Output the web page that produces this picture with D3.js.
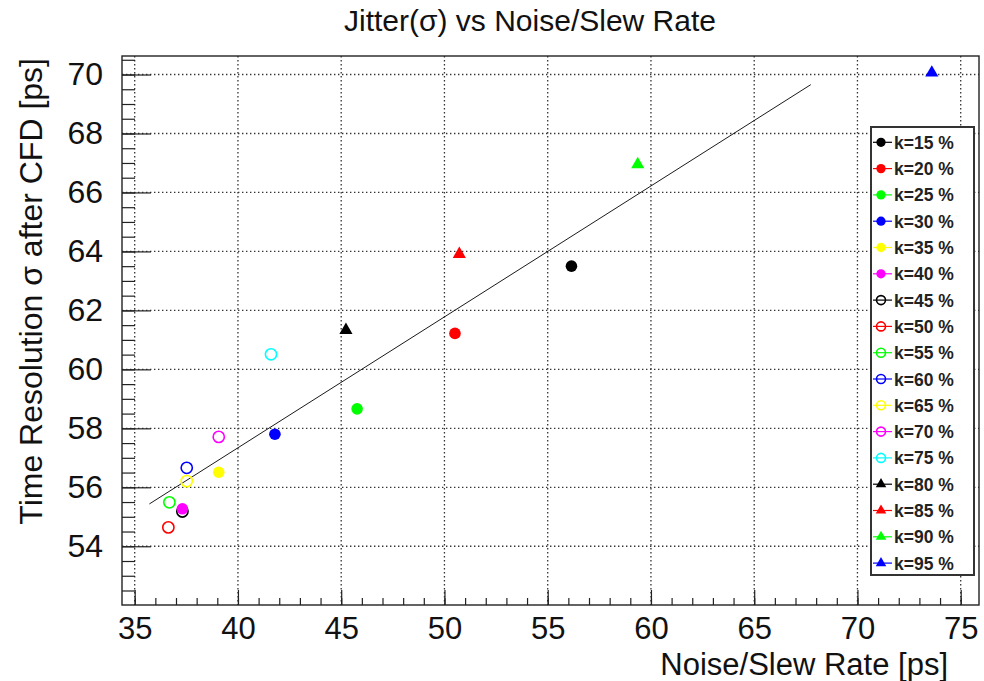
<!DOCTYPE html>
<html>
<head>
<meta charset="utf-8">
<script src="https://cdn.jsdelivr.net/npm/d3@7"></script>
<style>
  html, body { margin: 0; padding: 0; background: #fff; }
  svg { display: block; font-family: "Liberation Sans", Arial, Helvetica, sans-serif; }
</style>
</head>
<body>
<svg id="chart" width="984" height="681"></svg>
<script>
// Series: one point per CFD fraction k
const kLabels = ["k=15 %", "k=20 %", "k=25 %", "k=30 %", "k=35 %", "k=40 %",
                 "k=45 %", "k=50 %", "k=55 %", "k=60 %", "k=65 %", "k=70 %", "k=75 %",
                 "k=80 %", "k=85 %", "k=90 %", "k=95 %"];
const noiseOverSlew = [56.15, 50.51, 45.77, 41.79, 39.07, 37.31,
                       37.31, 36.63, 36.68, 37.52, 37.52, 39.07, 41.60,
                       45.23, 50.72, 59.36, 73.60];
const timeResolution = [63.50, 61.22, 58.66, 57.80, 56.51, 55.27,
                        55.18, 54.64, 55.49, 56.66, 56.21, 57.71, 60.51,
                        61.33, 63.91, 66.95, 70.06];
const markerColors = ["#000000", "#ff0000", "#00ff00", "#0000ff", "#ffff00", "#ff00ff",
                      "#000000", "#ff0000", "#00ff00", "#0000ff", "#ffff00", "#ff00ff", "#00ffff",
                      "#000000", "#ff0000", "#00ff00", "#0000ff"];
const markerShapes = ["disc", "disc", "disc", "disc", "disc", "disc",
                      "ring", "ring", "ring", "ring", "ring", "ring", "ring",
                      "triangle", "triangle", "triangle", "triangle"];

// Linear fit: sigma = intercept + slope * x over the fitted range
const fitSlope = 0.444;
const fitIntercept = 39.58;
const fitRange = [35.71, 67.74];

// Axes
const xDomain = [34.385, 75.886];
const yDomain = [52.008, 70.628];
const xMajorTicks = [35, 40, 45, 50, 55, 60, 65, 70, 75];
const xMinorTicks = d3.range(35, 76, 1);
const yMajorTicks = [54, 56, 58, 60, 62, 64, 66, 68, 70];
const yMinorTicks = d3.range(52.5, 70.6, 0.5);

const titleText = "Jitter(\u03c3) vs Noise/Slew Rate";
const xTitle = "Noise/Slew Rate [ps]";
const yTitle = "Time Resolution \u03c3 after CFD [ps]";

const frame = { left: 122, right: 979, top: 56, bottom: 605 };
const svg = d3.select("#chart");

const x = d3.scaleLinear().domain(xDomain).range([frame.left, frame.right]);
const y = d3.scaleLinear().domain(yDomain).range([frame.bottom, frame.top]);

const gridColor = "#333";
const axisColor = "#222";

// Dotted grid
const grid = svg.append("g");
grid.selectAll("line.gx").data(xMajorTicks).join("line")
  .attr("x1", d => x(d)).attr("x2", d => x(d))
  .attr("y1", frame.top).attr("y2", frame.bottom)
  .attr("stroke", gridColor).attr("stroke-width", 1.3).attr("stroke-dasharray", "1.4,2.6");
grid.selectAll("line.gy").data(yMajorTicks).join("line")
  .attr("x1", frame.left).attr("x2", frame.right)
  .attr("y1", d => y(d)).attr("y2", d => y(d))
  .attr("stroke", gridColor).attr("stroke-width", 1.3).attr("stroke-dasharray", "1.4,2.6");

// Bottom axis
const xAxisMinor = d3.axisBottom(x).tickValues(xMinorTicks).tickSize(-7).tickFormat("");
const xAxisMajor = d3.axisBottom(x).tickValues(xMajorTicks).tickSize(-15).tickPadding(12)
  .tickFormat(d3.format("d"));
const gxMinor = svg.append("g").attr("transform", `translate(0,${frame.bottom})`).call(xAxisMinor);
const gxMajor = svg.append("g").attr("transform", `translate(0,${frame.bottom})`).call(xAxisMajor);
[gxMinor, gxMajor].forEach(g => {
  g.select(".domain").remove();
  g.selectAll(".tick line").attr("stroke", axisColor).attr("stroke-width", 1.2);
});
gxMajor.selectAll(".tick text")
  .attr("font-size", 31).attr("fill", "#111")
  .attr("font-family", "'Liberation Sans', Arial, sans-serif");

// Left axis
const yAxisMinor = d3.axisLeft(y).tickValues(yMinorTicks).tickSize(-13).tickFormat("");
const yAxisMajor = d3.axisLeft(y).tickValues(yMajorTicks).tickSize(-29).tickPadding(19)
  .tickFormat(d3.format("d"));
const gyMinor = svg.append("g").attr("transform", `translate(${frame.left},0)`).call(yAxisMinor);
const gyMajor = svg.append("g").attr("transform", `translate(${frame.left},0)`).call(yAxisMajor);
[gyMinor, gyMajor].forEach(g => {
  g.select(".domain").remove();
  g.selectAll(".tick line").attr("stroke", axisColor).attr("stroke-width", 1.2);
});
gyMajor.selectAll(".tick text")
  .attr("font-size", 32).attr("fill", "#111")
  .attr("font-family", "'Liberation Sans', Arial, sans-serif");

// Frame
svg.append("rect")
  .attr("x", frame.left).attr("y", frame.top)
  .attr("width", frame.right - frame.left).attr("height", frame.bottom - frame.top)
  .attr("fill", "none").attr("stroke", axisColor).attr("stroke-width", 1.4);

// Fit line
svg.append("line")
  .attr("x1", x(fitRange[0])).attr("y1", y(fitIntercept + fitSlope * fitRange[0]))
  .attr("x2", x(fitRange[1])).attr("y2", y(fitIntercept + fitSlope * fitRange[1]))
  .attr("stroke", "#000").attr("stroke-width", 0.9);

// Markers
const discR = 5.8, ringR = 5.6, triSize = 75;
function drawMarker(g, shape, color, scale) {
  if (shape === "disc") {
    g.append("circle").attr("r", discR * scale).attr("fill", color);
  } else if (shape === "ring") {
    g.append("circle").attr("r", ringR * scale).attr("fill", "none")
      .attr("stroke", color).attr("stroke-width", 1.6);
  } else {
    g.append("path").attr("d", d3.symbol(d3.symbolTriangle, triSize * scale * scale)())
      .attr("fill", color);
  }
}

const points = kLabels.map((k, i) => ({
  k, x: noiseOverSlew[i], y: timeResolution[i], color: markerColors[i], shape: markerShapes[i]
}));
const drawOrder = ["ring", "disc", "triangle"];
const pointLayer = svg.append("g");
drawOrder.forEach(shape => {
  points.filter(p => p.shape === shape).forEach(p => {
    const g = pointLayer.append("g").attr("transform", `translate(${x(p.x)},${y(p.y)})`);
    drawMarker(g, p.shape, p.color, 1);
  });
});

// Legend
const legend = { left: 871, top: 127, width: 103, height: 448, rowStart: 142.3, rowStep: 26.3 };
const lg = svg.append("g");
lg.append("rect")
  .attr("x", legend.left).attr("y", legend.top)
  .attr("width", legend.width).attr("height", legend.height)
  .attr("fill", "#fff").attr("stroke", "#333").attr("stroke-width", 2);
points.forEach((p, i) => {
  const cy = legend.rowStart + i * legend.rowStep;
  const row = lg.append("g").attr("transform", `translate(0,${cy})`);
  row.append("line").attr("x1", 873).attr("x2", 892).attr("y1", 0).attr("y2", 0)
    .attr("stroke", p.color).attr("stroke-width", 1.2);
  const m = row.append("g").attr("transform", "translate(881,0)");
  drawMarker(m, p.shape, p.color, 0.8);
  row.append("text").attr("x", 894).attr("y", 6.5)
    .attr("font-size", 17.5).attr("font-weight", "bold").attr("fill", "#222")
    .text(p.k);
});

// Titles
svg.append("text")
  .attr("x", 530).attr("y", 31).attr("text-anchor", "middle")
  .attr("font-size", 30).attr("fill", "#111")
  .text(titleText);
svg.append("text")
  .attr("x", 948).attr("y", 675).attr("text-anchor", "end")
  .attr("font-size", 31).attr("fill", "#111")
  .text(xTitle);
svg.append("text")
  .attr("transform", "translate(42,58) rotate(-90)")
  .attr("text-anchor", "end")
  .attr("font-size", 32).attr("fill", "#111")
  .text(yTitle);
</script>
</body>
</html>
